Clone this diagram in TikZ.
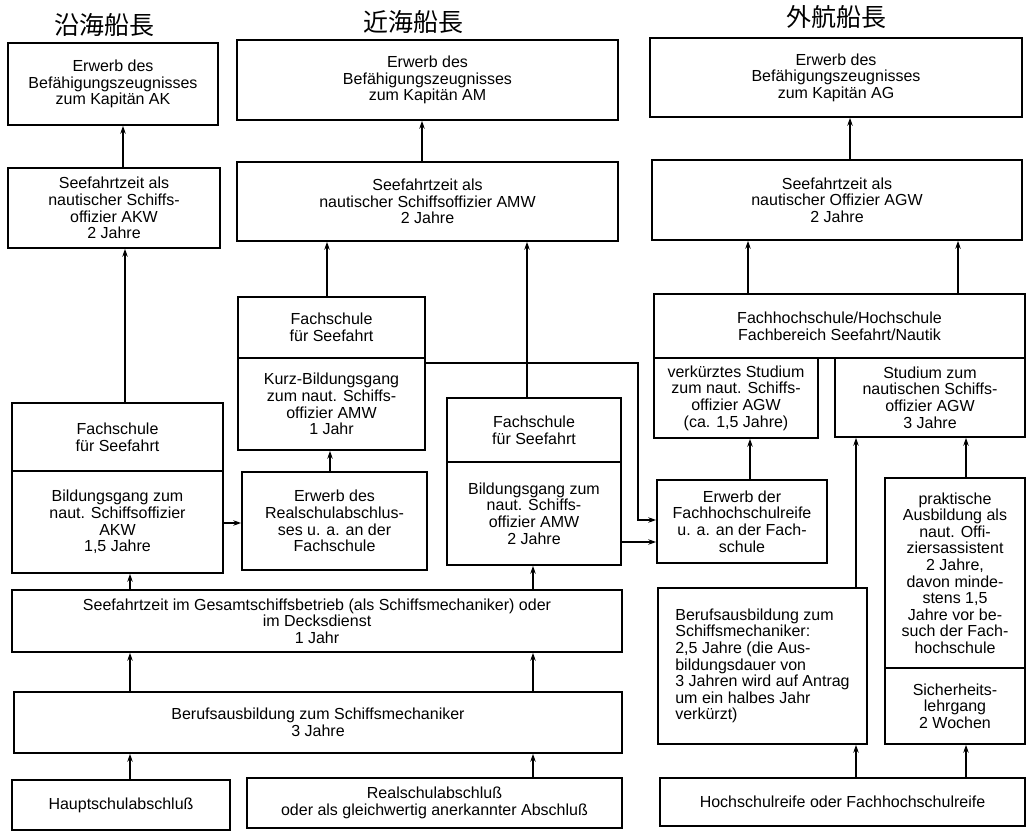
\documentclass[tikz,border=0pt]{standalone}
\usepackage{fontspec}
\setmainfont{Liberation Sans}
\newfontfamily\cjk{Noto Sans CJK JP}
\usetikzlibrary{arrows.meta}
\tikzset{
  box/.style={draw, line width=1.7pt, inner sep=1pt, align=center, font=\fontsize{16}{16.6}\selectfont},
  arr/.style={line width=1.1pt, -{Stealth[length=8pt,width=5.5pt]}},
  ln/.style={line width=1.1pt},
  ttl/.style={font=\cjk\fontsize{25}{28}\selectfont, inner sep=0pt}
}
\newcommand\drawbox[6]{\node[box, minimum width={#4pt-#2pt}, minimum height={#5pt-#3pt}] (#1) at ({(#2+#4)/2},{(#3+#5)/2}) {#6};}
\begin{document}
\begin{tikzpicture}[x=1pt,y=-1pt]
\useasboundingbox (0,0) rectangle (1031,834);
% titles
\node[ttl] (t1) at (104,25) {沿海船長};
\node[ttl] (t2) at (413,22) {近海船長};
\node[ttl] (t3) at (836,17) {外航船長};
% column 1
\drawbox{A1}{8}{43}{218}{125}{Erwerb des\\Befähigungszeugnisses\\zum Kapitän AK}
\drawbox{A2}{8}{168}{220}{248}{Seefahrtzeit als\\nautischer Schiffs-\\offizier AKW\\2 Jahre}
\drawbox{A3h}{12}{403}{223}{471}{Fachschule\\für Seefahrt}
\drawbox{A3b}{12}{471}{223}{573}{Bildungsgang zum\\naut. Schiffsoffizier\\AKW\\1,5 Jahre}
% column 2
\drawbox{B1}{237}{40}{618}{120}{Erwerb des\\Befähigungszeugnisses\\zum Kapitän AM}
\drawbox{B2}{237}{162}{618}{241}{Seefahrtzeit als\\nautischer Schiffsoffizier AMW\\2 Jahre}
\drawbox{B3h}{238}{297}{425}{358}{Fachschule\\für Seefahrt}
\drawbox{B3b}{238}{358}{425}{450}{Kurz-Bildungsgang\\zum naut. Schiffs-\\offizier AMW\\1 Jahr}
\drawbox{B4}{242}{472}{427}{570}{Erwerb des\\Realschulabschlus-\\ses u. a. an der\\Fachschule}
\drawbox{B5h}{447}{398}{621}{462}{Fachschule\\für Seefahrt}
\drawbox{B5b}{447}{462}{621}{565}{Bildungsgang zum\\naut. Schiffs-\\offizier AMW\\2 Jahre}
% column 3
\drawbox{C1}{650}{38}{1022}{117}{Erwerb des\\Befähigungszeugnisses\\zum Kapitän AG}
\drawbox{C2}{652}{160}{1022}{240}{Seefahrtzeit als\\nautischer Offizier AGW\\2 Jahre}
\drawbox{C3h}{654}{294}{1025}{358}{Fachhochschule/Hochschule\\Fachbereich Seefahrt/Nautik}
\drawbox{C3a}{654}{358}{818}{438}{verkürztes Studium\\zum naut. Schiffs-\\offizier AGW\\(ca. 1,5 Jahre)}
\drawbox{C3b}{835}{358}{1025}{437}{Studium zum\\nautischen Schiffs-\\offizier AGW\\3 Jahre}
\drawbox{C4}{657}{480}{827}{563}{Erwerb der\\Fachhochschulreife\\u. a. an der Fach-\\schule}
\node[box, align=left, minimum width={209pt}, minimum height={156pt}] (C5) at (762.5,666) {Berufsausbildung zum\\Schiffsmechaniker:\\2,5 Jahre (die Aus-\\bildungsdauer von\\3 Jahren wird auf Antrag\\um ein halbes Jahr\\verkürzt)};
\drawbox{C6h}{885}{478}{1025}{668}{praktische\\Ausbildung als\\naut. Offi-\\ziersassistent\\2 Jahre,\\davon minde-\\stens 1,5\\Jahre vor be-\\such der Fach-\\hochschule}
\drawbox{C6b}{885}{668}{1025}{744}{Sicherheits-\\lehrgang\\2 Wochen}
\drawbox{C7}{660}{778}{1025}{826}{Hochschulreife oder Fachhochschulreife}
% bottom left
\drawbox{A5}{12}{590}{622}{652}{Seefahrtzeit im Gesamtschiffsbetrieb (als Schiffsmechaniker) oder\\im Decksdienst\\1 Jahr}
\drawbox{A6}{14}{692}{622}{753}{Berufsausbildung zum Schiffsmechaniker\\3 Jahre}
\drawbox{A7}{12}{780}{230}{830}{Hauptschulabschluß}
\drawbox{A8}{247}{778}{622}{828}{Realschulabschluß\\oder als gleichwertig anerkannter Abschluß}
% column coordinates
\coordinate (xa) at (123,0);
\coordinate (xb) at (125,0);
\coordinate (xc) at (130,0);
\coordinate (xd) at (533,0);
\coordinate (xe) at (422,0);
\coordinate (xf) at (327,0);
\coordinate (xg) at (330,0);
\coordinate (xh) at (527,0);
\coordinate (xi) at (850,0);
\coordinate (xj) at (748,0);
\coordinate (xk) at (958,0);
\coordinate (xl) at (750,0);
\coordinate (xm) at (856,0);
\coordinate (xn) at (966,0);
\coordinate (ya) at (0,523);
\coordinate (yb) at (0,542);
\coordinate (k1) at (638,363);
\coordinate (k2) at (638,520);
% connectors
\draw[arr] (A2.north -| xa) -- (A1.south -| xa);
\draw[arr] (A3h.north -| xb) -- (A2.south -| xb);
\draw[arr] (B2.north -| xe) -- (B1.south -| xe);
\draw[arr] (B3h.north -| xf) -- (B2.south -| xf);
\draw[arr] (B5h.north -| xh) -- (B2.south -| xh);
\draw[arr] (B4.north -| xg) -- (B3b.south -| xg);
\draw[arr] (A3b.east |- ya) -- (B4.west |- ya);
\draw[arr] (B3b.east |- k1) -- (k1) -- (k2) -- (C4.west |- k2);
\draw[arr] (B5b.east |- yb) -- (C4.west |- yb);
\draw[arr] (C2.north -| xi) -- (C1.south -| xi);
\draw[arr] (C3h.north -| xj) -- (C2.south -| xj);
\draw[arr] (C3h.north -| xk) -- (C2.south -| xk);
\draw[arr] (C4.north -| xl) -- (C3a.south -| xl);
\draw[arr] (C5.north -| xm) -- (C3b.south -| xm);
\draw[arr] (C6h.north -| xn) -- (C3b.south -| xn);
\draw[arr] (C7.north -| xm) -- (C5.south -| xm);
\draw[arr] (C7.north -| xn) -- (C6b.south -| xn);
\draw[arr] (A5.north -| xc) -- (A3b.south -| xc);
\draw[arr] (A5.north -| xd) -- (B5b.south -| xd);
\draw[arr] (A6.north -| xc) -- (A5.south -| xc);
\draw[arr] (A6.north -| xd) -- (A5.south -| xd);
\draw[arr] (A7.north -| xc) -- (A6.south -| xc);
\draw[arr] (A8.north -| xd) -- (A6.south -| xd);
\end{tikzpicture}
\end{document}
